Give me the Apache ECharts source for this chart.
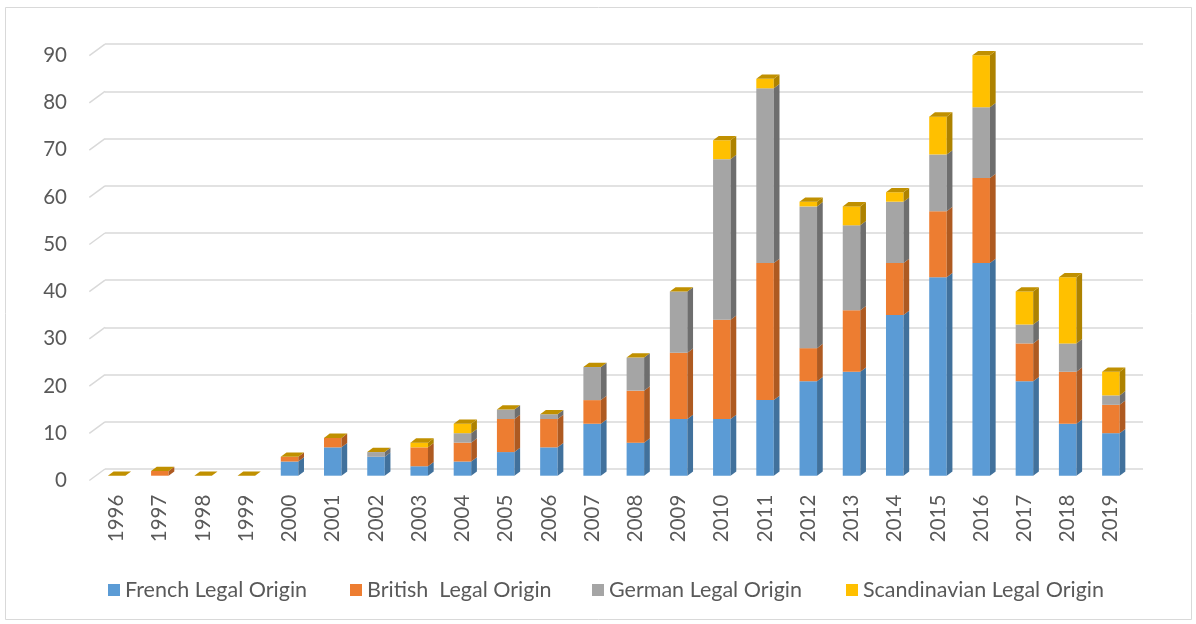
<!DOCTYPE html>
<html><head><meta charset="utf-8">
<script src="https://cdn.jsdelivr.net/npm/echarts@6/dist/echarts.min.js"></script>
<style>html,body{margin:0;padding:0;background:#fff}#c{width:1196px;height:624px}</style>
</head><body><div id="c"></div>
<script>
const years = ['1996','1997','1998','1999','2000','2001','2002','2003','2004','2005','2006','2007','2008','2009','2010','2011','2012','2013','2014','2015','2016','2017','2018','2019'];
const french       = [0,0,0,0,3,6,4,2,3,5,6,11,7,12,12,16,20,22,34,42,45,20,11,9];
const british      = [0,1,0,0,1,2,0,4,4,7,6,5,11,14,21,29,7,13,11,14,18,8,11,6];
const german       = [0,0,0,0,0,0,1,0,2,2,1,7,7,13,34,37,30,18,13,12,15,4,6,2];
const scandinavian = [0,0,0,0,0,0,0,1,2,0,0,0,0,0,4,2,1,4,2,8,11,7,14,5];
const yTicks = [0,10,20,30,40,50,60,70,80,90];
const seriesNames = ['French Legal Origin', 'British  Legal Origin', 'German Legal Origin', 'Scandinavian Legal Origin'];

const FONT = 'Lato';
const LABEL = '#595959';
const DX = 5.7, DY = -4.3;
const TOPC = '#C09000';
const legendLefts = [103, 345, 587, 841];

function makeSeries(name, vals, prevs, front, side, isTop) {
  const data = vals.map((v, i) => {
    const base = prevs.reduce((s, a) => s + a[i], 0);
    return [i, base, base + v];
  });
  return {
    type: 'custom', name, xAxisIndex: 0, yAxisIndex: 0, data, clip: false,
    itemStyle: { color: front },
    encode: { x: 0, y: [1, 2] },
    renderItem: (params, api) => {
      const i = api.value(0), b = api.value(1), t = api.value(2);
      const p0 = api.coord([i, b]), p1 = api.coord([i, t]);
      const w = api.size([1, 0])[0] * 0.405;
      const xl = p0[0] - w / 2, xr = p0[0] + w / 2;
      const children = [];
      if (t > b) {
        children.push({ type: 'rect', shape: { x: xl, y: p1[1], width: w, height: p0[1] - p1[1] }, style: { fill: front } });
        children.push({ type: 'polygon', shape: { points: [[xr, p1[1]], [xr + DX, p1[1] + DY], [xr + DX, p0[1] + DY], [xr, p0[1]]] }, style: { fill: side } });
      }
      if (isTop) {
        children.push({ type: 'polygon', shape: { points: [[xl, p1[1]], [xr, p1[1]], [xr + DX, p1[1] + DY], [xl + DX, p1[1] + DY]] }, style: { fill: TOPC } });
      }
      return { type: 'group', children };
    }
  };
}

const chart = echarts.init(document.getElementById('c'), null, { renderer: 'canvas' });
chart.setOption({
  animation: false,
  backgroundColor: '#fff',
  graphic: [{ type: 'rect', shape: { x: 5.5, y: 7.5, width: 1186, height: 612 }, style: { fill: 'none', stroke: '#d9d9d9', lineWidth: 1 }, z: -10 }],
  grid: [
    { left: 95, right: 63.5, top: 50.5, bottom: 148.3 },
    { left: 105, right: 53, top: 44.2, bottom: 155 },
    { left: 89, width: 10, top: 55.3, bottom: 143.5 }
  ],
  xAxis: [
    { type: 'category', gridIndex: 0, data: years,
      axisLine: { show: false }, axisTick: { show: false },
      axisLabel: { rotate: 90, margin: 19, color: LABEL, fontSize: 20.5, fontFamily: FONT, interval: 0 } },
    { type: 'value', gridIndex: 1, min: 0, max: 1, show: false },
    { type: 'value', gridIndex: 2, min: 0, max: 1, show: false }
  ],
  yAxis: [
    { type: 'value', gridIndex: 0, min: 0, max: 90, interval: 10, show: false },
    { type: 'value', gridIndex: 1, min: 0, max: 90, interval: 10,
      axisLine: { show: false }, axisTick: { show: false }, axisLabel: { show: false },
      splitLine: { show: true, lineStyle: { color: '#d9d9d9', width: 1.5 } } },
    { type: 'value', gridIndex: 2, min: 0, max: 90, interval: 10,
      axisLine: { show: false }, axisTick: { show: false }, splitLine: { show: false },
      axisLabel: { margin: 22, color: LABEL, fontSize: 20.5, fontFamily: FONT } }
  ],
  legend: seriesNames.map((n, k) => ({
    left: legendLefts[k], top: 574, itemWidth: 12, itemHeight: 12, icon: 'rect',
    textStyle: { color: LABEL, fontSize: 21.5, fontFamily: FONT },
    data: [n]
  })),
  series: [
    { type: 'custom', xAxisIndex: 1, yAxisIndex: 1, clip: false, silent: true,
      data: yTicks.map(v => [0, v]),
      renderItem: (params, api) => {
        const p = api.coord([0, api.value(1)]);
        return { type: 'line', shape: { x1: p[0] - 15.7, y1: p[1] + 11.5, x2: p[0], y2: p[1] }, style: { stroke: '#d9d9d9', lineWidth: 1.5 } };
      } },
    makeSeries(seriesNames[0], french, [], '#5B9BD5', '#41719C', false),
    makeSeries(seriesNames[1], british, [french], '#ED7D31', '#AE5A21', false),
    makeSeries(seriesNames[2], german, [french, british], '#A5A5A5', '#6E6E6E', false),
    makeSeries(seriesNames[3], scandinavian, [french, british, german], '#FFC000', '#AD8200', true)
  ]
});
</script>
</body></html>
